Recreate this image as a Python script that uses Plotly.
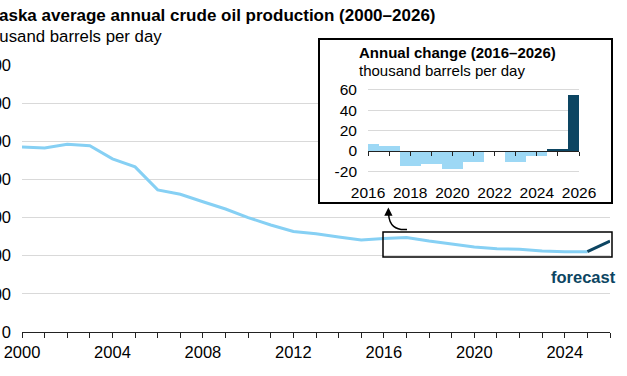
import plotly.graph_objects as go

# ---------------- data ----------------
years = list(range(2000, 2027))
production = [970, 965, 985, 977, 908, 866, 745, 722, 683, 645, 600, 561, 527, 515,
              498, 483, 490, 496, 477, 462, 446, 436, 434, 425, 421, 421, 477]
forecast_start = 2025

change_years = list(range(2016, 2027))
annual_change = [7, 5, -15, -13, -18, -11, -1, -11, -5, 1.5, 55]

main_ytickvals = [0, 200, 400, 600, 800, 1000, 1200, 1400]
main_yticktext = ["0", "200", "400", "600", "800", "1,000", "1,200", "1,400"]
main_xticktext = [str(y) if y % 4 == 0 else "" for y in years]

inset_ytickvals = [-20, 0, 20, 40, 60]
inset_yticktext = ["-20", "0", "20", "40", "60"]
inset_xticktext = [str(y) if y % 2 == 0 else "" for y in change_years]

# ---------------- styling ----------------
LIGHT = "#86d0f4"
BAR_LIGHT = "#9dd8f5"
DARK = "#0c4562"
GRID = "#d9d9d9"
AXIS = "#222222"
FONT = "Liberation Sans, Arial, sans-serif"

W, H = 627, 376
ML, MR, MT, MB = 22, 15, 38, 44


def fx(px):
    return (px - ML) / (W - ML - MR)


def fy(py):
    return (H - MB - py) / (H - MT - MB)


hist_x = [y for y in years if y <= forecast_start]
hist_y = [v for y, v in zip(years, production) if y <= forecast_start]
fc_x = [y for y in years if y >= forecast_start]
fc_y = [v for y, v in zip(years, production) if y >= forecast_start]

bar_colors = [DARK if y >= forecast_start else BAR_LIGHT for y in change_years]

fig = go.Figure()
fig.add_trace(go.Scatter(x=hist_x, y=hist_y, mode="lines",
                         line=dict(color=LIGHT, width=3), hoverinfo="skip",
                         xaxis="x", yaxis="y"))
fig.add_trace(go.Scatter(x=fc_x, y=fc_y, mode="lines",
                         line=dict(color=DARK, width=3), hoverinfo="skip",
                         xaxis="x", yaxis="y"))
# invisible trace creating the white inset panel subplot
fig.add_trace(go.Scatter(x=[0.5], y=[0.5], mode="markers", opacity=0,
                         hoverinfo="skip", xaxis="x2", yaxis="y2"))
fig.add_trace(go.Bar(x=change_years, y=annual_change, width=1,
                     marker=dict(color=bar_colors, line=dict(width=0)),
                     hoverinfo="skip", xaxis="x3", yaxis="y3"))

tick_font = dict(family=FONT, size=16.5, color="#000000")
inset_tick_font = dict(family=FONT, size=15.5, color="#000000")

fig.update_layout(
    width=W, height=H,
    margin=dict(l=ML, r=MR, t=MT, b=MB, pad=0, autoexpand=False),
    paper_bgcolor="white", plot_bgcolor="white",
    showlegend=False, hovermode=False,
    font=dict(family=FONT, color="#000000"),
    bargap=0,
    xaxis=dict(domain=[0, fx(610)], range=[2000, 2026], anchor="y",
               showline=True, linecolor=AXIS, linewidth=1,
               ticks="outside", ticklen=5, tickcolor=AXIS, tickwidth=1,
               tickvals=years, ticktext=main_xticktext, tickfont=tick_font,
               showgrid=False, zeroline=False, fixedrange=True, automargin=False),
    yaxis=dict(domain=[0, fy(65)], range=[0, 1400], anchor="x",
               showgrid=True, gridcolor=GRID, gridwidth=1,
               zeroline=False, showline=False, ticks="",
               tickvals=main_ytickvals, ticktext=main_yticktext,
               tickfont=tick_font, ticklabelstandoff=10, fixedrange=True,
               automargin=False),
    xaxis2=dict(domain=[fx(319), fx(612)], range=[0, 1], anchor="y2",
                visible=False, fixedrange=True, automargin=False),
    yaxis2=dict(domain=[fy(203), fy(39)], range=[0, 1], anchor="x2",
                visible=False, fixedrange=True, automargin=False),
    xaxis3=dict(domain=[fx(368), fx(579)], range=[2016, 2026],
                anchor="free", position=fy(151),
                showline=True, linecolor=AXIS, linewidth=1,
                ticks="outside", ticklen=4, tickcolor=AXIS,
                tickvals=change_years, ticktext=inset_xticktext,
                tickfont=inset_tick_font, ticklabelstandoff=23,
                showgrid=False, zeroline=False, fixedrange=True, automargin=False),
    yaxis3=dict(domain=[fy(173.4), fy(87.9)], range=[-22, 62], anchor="x3",
                showgrid=True, gridcolor=GRID, gridwidth=1,
                zeroline=False, showline=False, ticks="",
                tickvals=inset_ytickvals, ticktext=inset_yticktext,
                tickfont=inset_tick_font, ticklabelstandoff=10, fixedrange=True,
                automargin=False),
)

shapes = [
    dict(type="rect", xref="paper", yref="paper",
         x0=fx(319), x1=fx(612), y0=fy(203), y1=fy(39),
         line=dict(color="#000000", width=2), layer="above"),
    dict(type="rect", xref="paper", yref="paper",
         x0=fx(383), x1=fx(612), y0=fy(257), y1=fy(232),
         line=dict(color="#000000", width=1.5), layer="above"),
    dict(type="path", xref="paper", yref="paper",
         path=f"M {fx(407)},{fy(229.5)} Q {fx(389.5)},{fy(231)} {fx(388.6)},{fy(214)}",
         line=dict(color="#000000", width=1.5), layer="above"),
]
fig.update_layout(shapes=shapes)

annotations = [
    dict(text="<b>Alaska average annual crude oil production (2000–2026)</b>",
         x=fx(-20), y=fy(16), xref="paper", yref="paper",
         xanchor="left", yanchor="middle", showarrow=False,
         font=dict(family=FONT, size=17, color="#000000")),
    dict(text="thousand barrels per day",
         x=fx(-25.7), y=fy(36), xref="paper", yref="paper",
         xanchor="left", yanchor="middle", showarrow=False,
         font=dict(family=FONT, size=16.8, color="#000000")),
    dict(text="<b>Annual change (2016–2026)</b>",
         x=fx(357), y=fy(53), xref="paper", yref="paper",
         xanchor="left", yanchor="middle", showarrow=False,
         font=dict(family=FONT, size=15, color="#000000")),
    dict(text="thousand barrels per day",
         x=fx(357), y=fy(70), xref="paper", yref="paper",
         xanchor="left", yanchor="middle", showarrow=False,
         font=dict(family=FONT, size=15, color="#000000")),
    dict(text="<b>forecast</b>",
         x=fx(618), y=fy(277), xref="paper", yref="paper",
         xanchor="right", yanchor="middle", showarrow=False,
         font=dict(family=FONT, size=16.5, color=DARK)),
    dict(text="", x=fx(388.4), y=fy(207.5), xref="paper", yref="paper",
         showarrow=True, ax=0, ay=9, axref="pixel", ayref="pixel",
         arrowhead=2, arrowsize=1.1, arrowwidth=1.5, arrowcolor="#000000"),
]
fig.update_layout(annotations=annotations)

fig.write_html("out.html", config={"staticPlot": True},
               post_script="document.body.style.margin='0px';document.body.style.padding='0px';")
